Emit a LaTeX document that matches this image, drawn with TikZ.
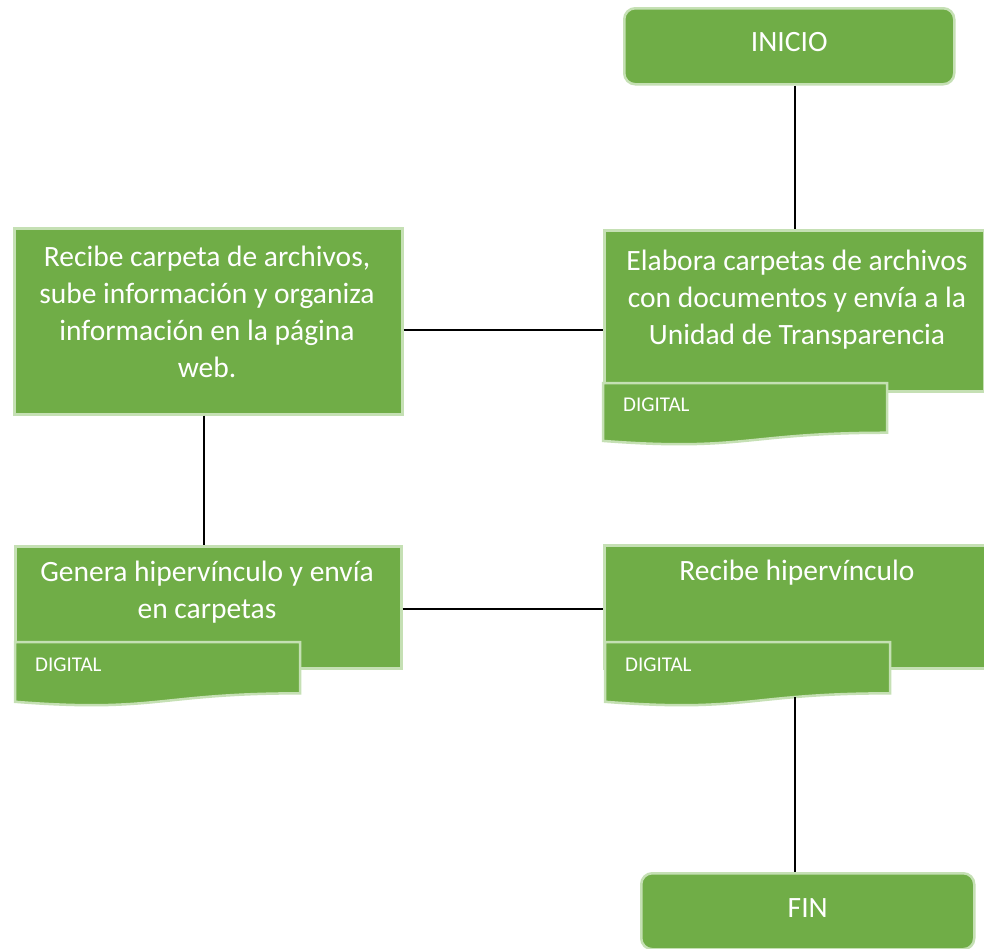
\documentclass[tikz,border=0pt]{standalone}
\usepackage{fontspec}
\setmainfont{Carlito}
\definecolor{gfill}{HTML}{70AD47}
\definecolor{gline}{HTML}{C5E0B4}
\newcommand{\docshape}[5]{% name, x, y, w, h
  \path[draw=gline,line width=2.5pt,fill=gfill]
    (#2,#3) -- ({#2+#4},#3) -- ({#2+#4},{#3+0.802*#5})
    .. controls ({#2+0.5*#4},{#3+0.802*#5}) and ({#2+0.5*#4},{#3+1.108*#5}) .. ({#2},{#3+0.934*#5}) -- cycle;
  \coordinate (#1) at ({#2},{#3});}
\begin{document}
\begin{tikzpicture}[x=1pt,y=-1pt,
  box/.style={draw=gline,line width=2.5pt,fill=gfill,inner sep=0pt,anchor=north west},
  term/.style={box,rounded corners=11pt,text=white,font=\fontsize{29.5}{37}\selectfont},
  maintext/.style={text=white,font=\fontsize{29.5}{37}\selectfont,align=center,inner sep=0pt},
  smalltext/.style={text=white,font=\fontsize{21}{24}\selectfont,inner sep=0pt,anchor=west},
  conn/.style={draw=black,line width=2pt}]
\useasboundingbox (0,0) rectangle (984,948);
\fill[white] (0,0) rectangle (984,948);
% terminals
\node[term,minimum width=330pt,minimum height=76pt] (ini) at (623,7) {\raisebox{9pt}{INICIO}};
\node[term,minimum width=333pt,minimum height=76pt] (fin) at (640,872) {\raisebox{6pt}{FIN}};
% process boxes
\node[box,minimum width=380pt,minimum height=161pt] (ela) at (603,229) {};
\node[box,minimum width=388pt,minimum height=186pt] (rc) at (13,227) {};
\node[box,minimum width=386pt,minimum height=122pt] (gen) at (14,545) {};
\node[box,minimum width=390pt,minimum height=123pt] (rh) at (603,544) {};
% documents
\docshape{d1}{603}{383}{284}{62}
\docshape{d2}{15}{642}{285}{64}
\docshape{d3}{605}{642}{285}{64}
% texts
\node[maintext] (ela-t) at (797,300) {Elabora carpetas de archivos\\con documentos y envía a la\\Unidad de Transparencia};
\node[maintext] (rc-t) at (207,312) {Recibe carpeta de archivos,\\sube información y organiza\\información en la página\\web.};
\node[maintext] (gen-t) at (207,592) {Genera hipervínculo y envía\\en carpetas};
\node[maintext] (rh-t) at (797,573) {Recibe hipervínculo};
\node[smalltext] (d1-t) at (623,405) {DIGITAL};
\node[smalltext] (d2-t) at (35,665) {DIGITAL};
\node[smalltext] (d3-t) at (625,665) {DIGITAL};
% connector helpers
\coordinate (vx) at (795,0);
\coordinate (vx2) at (204,0);
\coordinate (hy1) at (0,330);
\coordinate (hy2) at (0,609);
\coordinate (d3b) at (795,697);
% connectors
\draw[conn] (ini.south -| vx) -- (ela.north -| vx);
\draw[conn] (rc.east |- hy1) -- (ela.west |- hy1);
\draw[conn] (rc.south -| vx2) -- (gen.north -| vx2);
\draw[conn] (gen.east |- hy2) -- (rh.west |- hy2);
\draw[conn] (d3b) -- (fin.north -| d3b);
\end{tikzpicture}
\end{document}
